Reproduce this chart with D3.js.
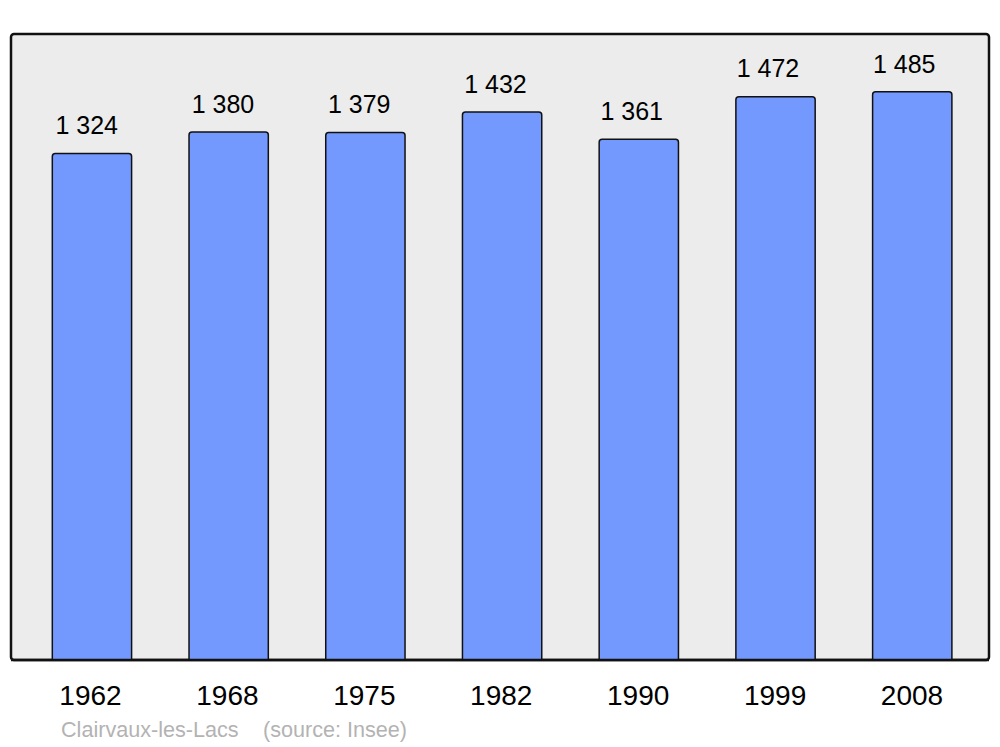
<!DOCTYPE html>
<html><head><meta charset="utf-8">
<script src="https://cdn.jsdelivr.net/npm/d3@7"></script>
<style>body{margin:0;background:#fff}svg{display:block}text{font-family:"Liberation Sans",Arial,sans-serif}</style>
</head><body>
<svg id="c" width="1000" height="747"></svg>
<script>
const years = ["1962","1968","1975","1982","1990","1999","2008"];
const population = [1324,1380,1379,1432,1361,1472,1485];
const valueLabels = ["1 324","1 380","1 379","1 432","1 361","1 472","1 485"];
const sourceName = "Clairvaux-les-Lacs";
const sourceNote = "(source: Insee)";

const svg = d3.select("#c");
const panel = {x0: 11, y0: 34, x1: 989, y1: 660};

const x = d3.scaleBand().domain(years).range([23.6, 980.6]).paddingInner(0.42).paddingOuter(0.21);
const xVal = d3.scalePoint().domain(years).range([86.7, 904.2]);
const xYear = d3.scalePoint().domain(years).range([90, 911.5]);
const y = d3.scaleLinear().domain([0, d3.max(population) * 1.1]).range([panel.y1, panel.y0 + 1]);

svg.append("rect").attr("x", panel.x0).attr("y", panel.y0)
  .attr("width", panel.x1 - panel.x0).attr("height", panel.y1 - panel.y0)
  .attr("rx", 3).attr("fill", "#ececec").attr("stroke", "#111").attr("stroke-width", 2.5);

function barPath(x0, w, top, bottom, r) {
  return `M${x0},${bottom} L${x0},${top + r} Q${x0},${top} ${x0 + r},${top} L${x0 + w - r},${top} Q${x0 + w},${top} ${x0 + w},${top + r} L${x0 + w},${bottom}`;
}

const g = svg.append("g");
g.selectAll("path.bar").data(years).join("path").attr("class", "bar")
  .attr("d", (d, i) => barPath(x(d), x.bandwidth(), y(population[i]), y(0), 3))
  .attr("fill", "#7399ff").attr("stroke", "#111").attr("stroke-width", 1.5);

g.selectAll("text.val").data(years).join("text").attr("class", "val")
  .attr("x", d => xVal(d))
  .attr("y", (d, i) => y(population[i]) - 19.3)
  .attr("text-anchor", "middle").attr("font-size", 25).attr("fill", "#000")
  .text((d, i) => valueLabels[i]);

svg.append("line").attr("x1", panel.x0).attr("x2", panel.x1).attr("y1", panel.y1).attr("y2", panel.y1)
  .attr("stroke", "#111").attr("stroke-width", 2.5);

const xAxis = svg.append("g").attr("transform", `translate(0,${panel.y1})`)
  .call(d3.axisBottom(xYear).tickSize(0).tickPadding(0));
xAxis.select(".domain").remove();
xAxis.selectAll("text").attr("font-size", 28).attr("fill", "#000")
  .attr("font-family", '"Liberation Sans",Arial,sans-serif')
  .attr("dy", null).attr("y", 45);

svg.append("text").attr("x", 61).attr("y", 736.5).attr("font-size", 21.6).attr("fill", "#b3b3b3")
  .text(sourceName);
svg.append("text").attr("x", 263).attr("y", 736.5).attr("font-size", 21.6).attr("fill", "#b3b3b3")
  .text(sourceNote);
</script>
</body></html>
